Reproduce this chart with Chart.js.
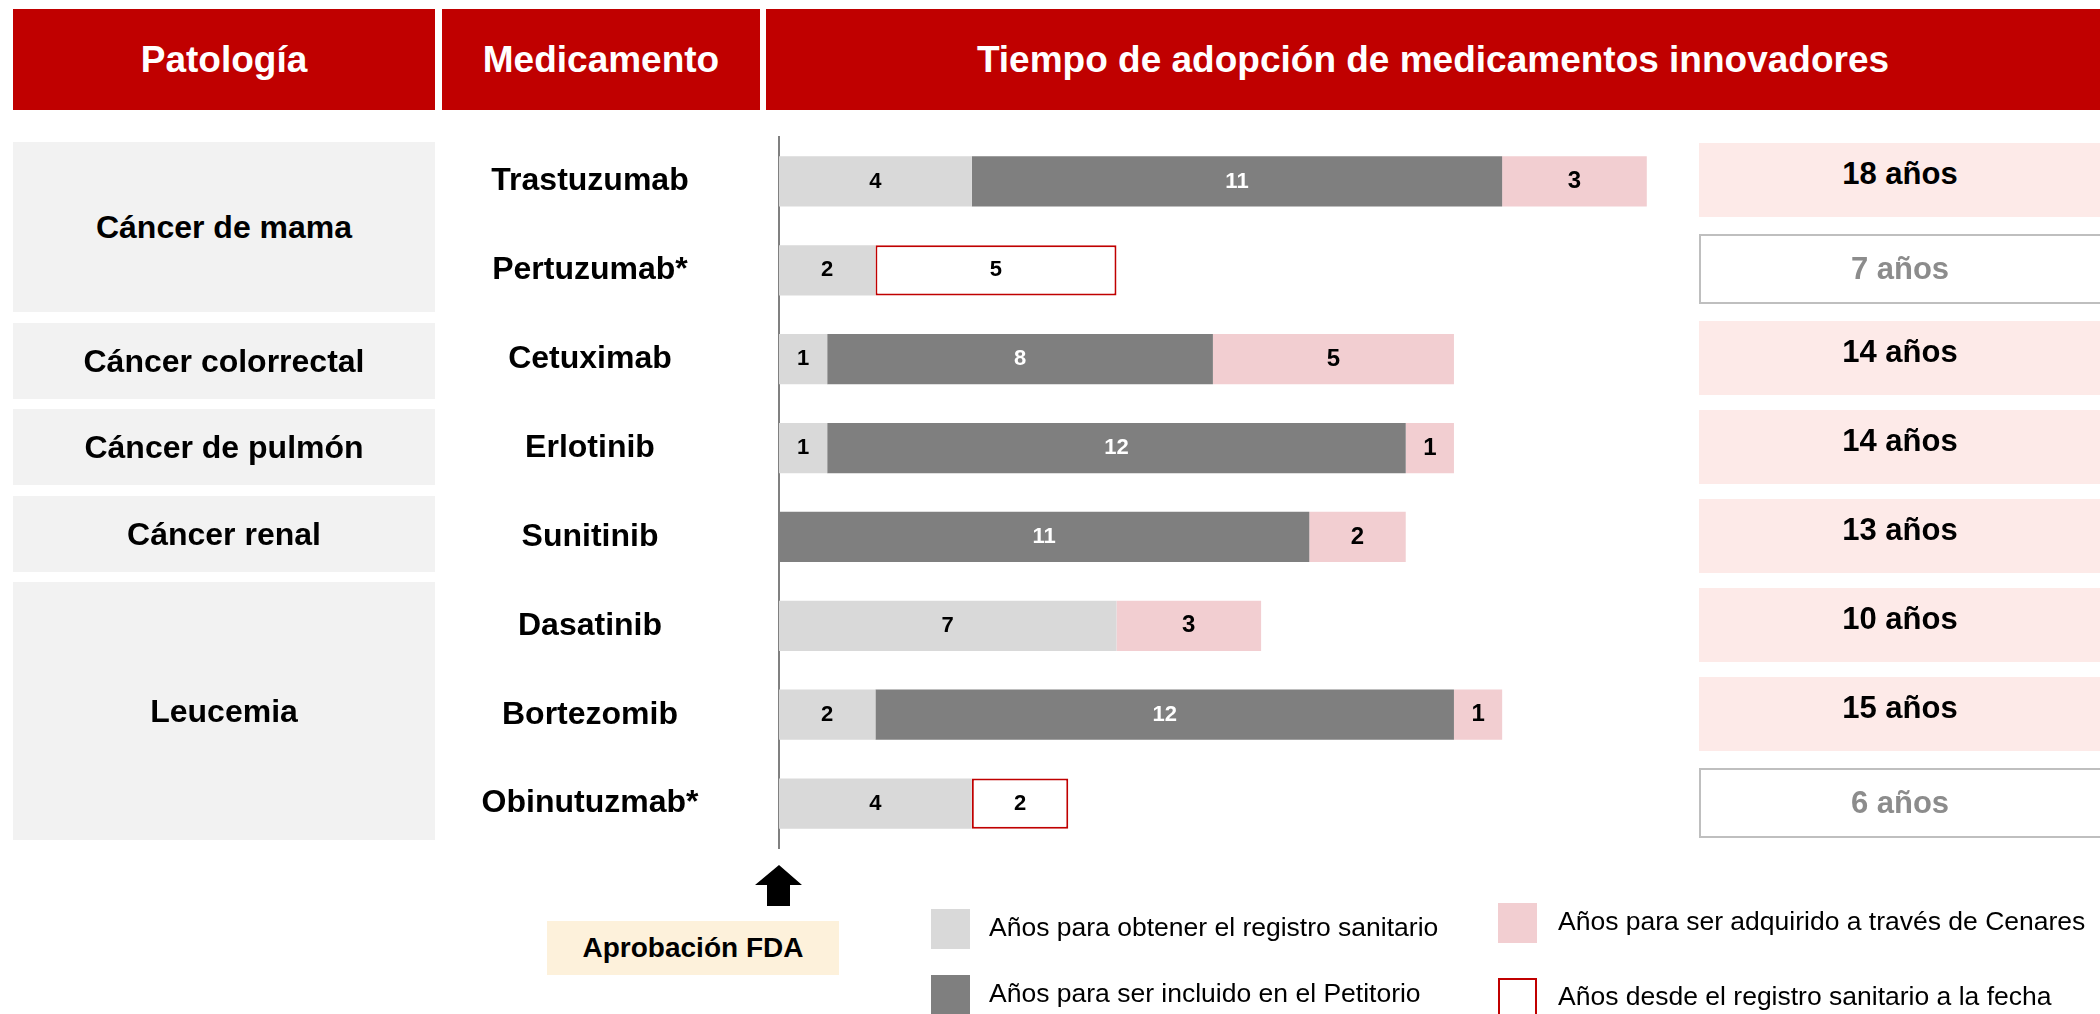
<!DOCTYPE html>
<html>
<head>
<meta charset="utf-8">
<script src="https://cdn.jsdelivr.net/npm/chart.js@4.4.1/dist/chart.umd.min.js"></script>
<style>
html,body{margin:0;padding:0;background:#fff;}
body{width:2100px;height:1014px;position:relative;overflow:hidden;font-family:'Liberation Sans',Arial,sans-serif;}
#chart{position:absolute;left:0;top:0;}
.abs{position:absolute;display:flex;align-items:center;justify-content:center;box-sizing:border-box;white-space:nowrap;}
.hdr{background:#C00000;color:#fff;font-weight:bold;font-size:37px;top:9px;height:101px;}
.pat{background:#F2F2F2;color:#000;font-weight:bold;font-size:32px;left:13px;width:422px;}
.tot{font-weight:bold;font-size:31px;left:1699px;width:420px;padding-right:18px;}
.tot.pink{background:#FDEAE8;color:#000;padding-bottom:12px;}
.tot.open{background:#fff;border:2px solid #BFBFBF;color:#8C8C8C;}
.fda{left:547px;top:921px;width:292px;height:54px;background:#FDF1DB;color:#000;font-weight:bold;font-size:28px;}
.lg{position:absolute;font-size:26.5px;color:#000;display:flex;align-items:center;white-space:nowrap;}
.lg span{position:relative;top:-2px;}
.sw{width:39px;height:40px;box-sizing:border-box;margin-right:19px;flex:none;}
</style>
</head>
<body>
<canvas id="chart" width="2100" height="1014"></canvas>

<div class="abs hdr" style="left:13px;width:422px;">Patología</div>
<div class="abs hdr" style="left:442px;width:318px;">Medicamento</div>
<div class="abs hdr" style="left:766px;width:1334px;">Tiempo de adopción de medicamentos innovadores</div>

<div id="patologias"></div>
<div id="totales"></div>

<svg style="position:absolute;left:750px;top:860px" width="60" height="50">
  <polygon points="5,25 29,5 52,25 40,25 40,46 17,46 17,25" fill="#000"/>
</svg>
<div class="abs fda">Aprobación FDA</div>

<div id="leyenda"></div>

<script>
// ---- Data ----
const medicamentos = ['Trastuzumab','Pertuzumab*','Cetuximab','Erlotinib','Sunitinib','Dasatinib','Bortezomib','Obinutuzmab*'];
const anosRegistro      = [4, 2, 1, 1, null, 7, 2, 4];
const anosPetitorio     = [11, null, 8, 12, 11, null, 12, null];
const anosCenares       = [3, null, 5, 1, 2, 3, 1, null];
const anosDesdeRegistro = [null, 5, null, null, null, null, null, 2];
const totalAnos         = [18, 7, 14, 14, 13, 10, 15, 6];
const totalEnCurso      = [false, true, false, false, false, false, false, true];
const patologias        = ['Cáncer de mama','Cáncer colorrectal','Cáncer de pulmón','Cáncer renal','Leucemia'];
const nombresSeries     = [
  'Años para obtener el registro sanitario',
  'Años para ser incluido en el Petitorio',
  'Años para ser adquirido a través de Cenares',
  'Años desde el registro sanitario a la fecha'
];

// ---- Layout / style ----
const FONT = "'Liberation Sans', Arial, sans-serif";
const AXIS_X = 779;
const LABEL_CENTER_X = 590;
const tickFont = {family: FONT, size: 32, weight: 'bold'};

// measure widest tick label to center labels
const mctx = document.createElement('canvas').getContext('2d');
mctx.font = `normal bold 32px ${FONT}`;
const widest = Math.max(...medicamentos.map(m => mctx.measureText(m).width));
const tickPad = AXIS_X - LABEL_CENTER_X - widest / 2;

const barLabels = {
  id: 'barLabels',
  afterDatasetsDraw(chart) {
    const ctx = chart.ctx;
    ctx.save();
    ctx.textAlign = 'center';
    ctx.textBaseline = 'middle';
    chart.data.datasets.forEach((ds, di) => {
      const meta = chart.getDatasetMeta(di);
      meta.data.forEach((el, j) => {
        const v = ds.data[j];
        if (v == null) return;
        const p = el.getProps(['x', 'y', 'base'], true);
        ctx.font = `bold ${ds.labelSize}px ${FONT}`;
        ctx.fillStyle = ds.labelColor;
        ctx.fillText(String(v), (p.x + p.base) / 2, p.y);
      });
    });
    ctx.restore();
  }
};

const datasets = [
  {label: nombresSeries[0], data: anosRegistro, backgroundColor: '#D9D9D9', labelColor: '#000', labelSize: 22},
  {label: nombresSeries[1], data: anosPetitorio, backgroundColor: '#7F7F7F', labelColor: '#fff', labelSize: 22},
  {label: nombresSeries[2], data: anosCenares, backgroundColor: '#F2CED1', labelColor: '#000', labelSize: 24},
  {label: nombresSeries[3], data: anosDesdeRegistro, backgroundColor: '#FFFFFF', borderColor: '#C00000', borderWidth: 2, borderSkipped: false, labelColor: '#000', labelSize: 22}
];

const chart = new Chart(document.getElementById('chart'), {
  type: 'bar',
  data: {labels: medicamentos, datasets: datasets},
  plugins: [barLabels],
  options: {
    indexAxis: 'y',
    responsive: false,
    animation: false,
    devicePixelRatio: 1,
    layout: {padding: {left: 0, top: 137, right: 405, bottom: 166}},
    datasets: {bar: {categoryPercentage: 0.565, barPercentage: 1}},
    plugins: {legend: {display: false}, tooltip: {enabled: false}, title: {display: false}},
    scales: {
      x: {stacked: true, min: 0, max: 19, display: false},
      y: {
        stacked: true,
        grid: {display: false, drawTicks: false},
        border: {display: true, color: '#808080', width: 2},
        ticks: {font: tickFont, color: '#000', crossAlign: 'center', padding: tickPad, autoSkip: false},
        afterFit(scale) { scale.width = AXIS_X; }
      }
    }
  }
});

// ---- Pathology boxes (group spans) ----
const patBoxes = [[142,170],[323,76],[409,76],[496,76],[582,258]];
const patCont = document.getElementById('patologias');
patologias.forEach((p, i) => {
  const d = document.createElement('div');
  d.className = 'abs pat';
  d.style.top = patBoxes[i][0] + 'px';
  d.style.height = patBoxes[i][1] + 'px';
  d.textContent = p;
  patCont.appendChild(d);
});

// ---- Total boxes, aligned to category centers from the y scale ----
const totCont = document.getElementById('totales');
const yScale = chart.scales.y;
totalAnos.forEach((t, i) => {
  const yc = yScale.getPixelForValue(i);
  const d = document.createElement('div');
  const open = totalEnCurso[i];
  d.className = 'abs tot ' + (open ? 'open' : 'pink');
  d.style.top = Math.round(yc - (open ? 36 : 38)) + 'px';
  d.style.height = (open ? 70 : 74) + 'px';
  d.textContent = t + ' años';
  totCont.appendChild(d);
});

// ---- Legend built from datasets ----
const lgPos = [[931, 909], [931, 975], [1498, 903], [1498, 978]];
const lgCont = document.getElementById('leyenda');
datasets.forEach((ds, i) => {
  const item = document.createElement('div');
  item.className = 'lg';
  item.style.left = lgPos[i][0] + 'px';
  item.style.top = lgPos[i][1] + 'px';
  const sw = document.createElement('div');
  sw.className = 'sw';
  sw.style.background = ds.backgroundColor;
  if (ds.borderWidth) sw.style.border = ds.borderWidth + 'px solid ' + ds.borderColor;
  if (i >= 2) sw.style.marginRight = '21px';
  const tx = document.createElement('span');
  tx.textContent = ds.label;
  item.appendChild(sw);
  item.appendChild(tx);
  lgCont.appendChild(item);
});
</script>
</body>
</html>
